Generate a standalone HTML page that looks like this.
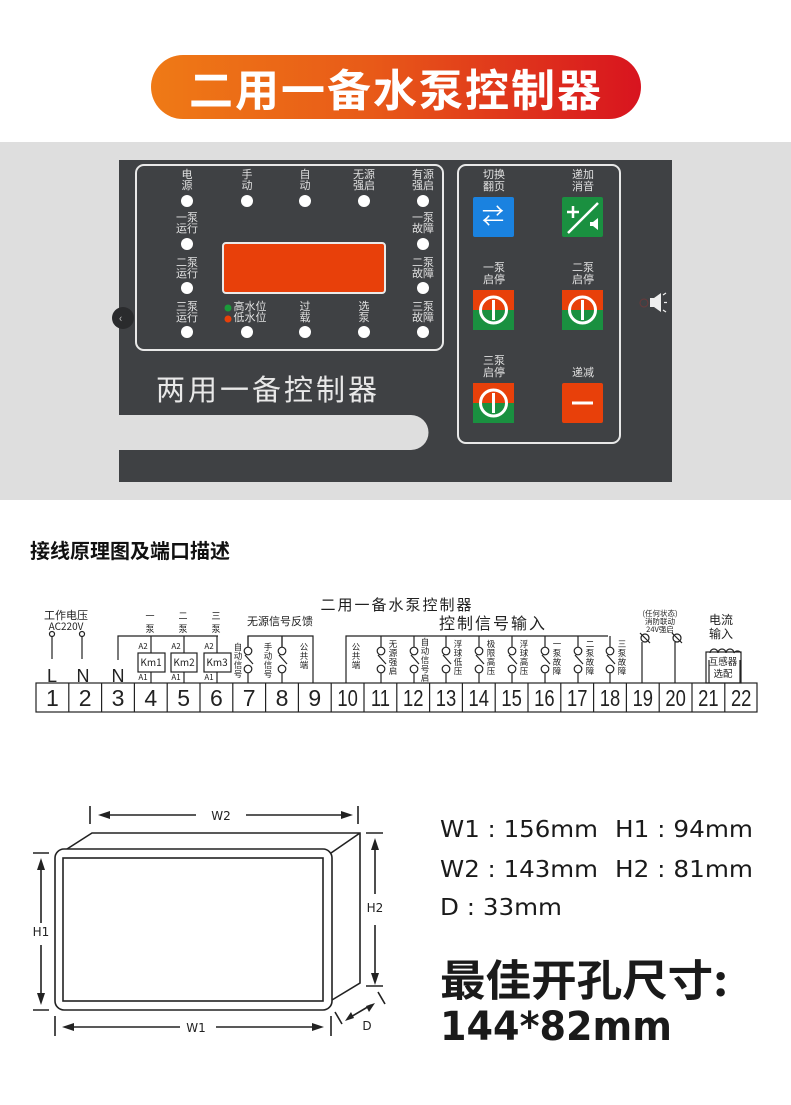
<!DOCTYPE html>
<html><head><meta charset="utf-8">
<style>
body{margin:0;width:791px;height:1105px;background:#fff;position:relative;overflow:hidden;font-family:"Liberation Sans","Noto Sans CJK SC",sans-serif;}
.abs{position:absolute;}
</style></head><body>
<div class="abs" style="left:151px;top:55px;width:490px;height:64px;border-radius:32px;background:linear-gradient(90deg,#ef7a16,#e85a18 45%,#d8141f);"></div>
<div class="abs" style="left:151px;top:55px;width:490px;height:64px;line-height:64px;text-align:center;color:#fff;font-size:44px;font-weight:bold;font-family:'Noto Sans CJK SC',sans-serif;letter-spacing:2px;">二用一备水泵控制器</div>
<div class="abs" style="left:0;top:142px;width:791px;height:358px;background:#dedede;"></div>

<svg class="abs" style="left:0;top:0" width="791" height="1105" font-family="'Noto Sans CJK SC',sans-serif">
<!-- panel -->
<rect x="119" y="160" width="553" height="322" fill="#3f4144"/>
<rect x="136" y="165" width="307" height="185" rx="8" fill="none" stroke="#e8e8e8" stroke-width="2"/>
<rect x="458" y="165" width="162" height="278" rx="8" fill="none" stroke="#e8e8e8" stroke-width="2"/>
<rect x="223" y="243" width="162" height="50" rx="3" fill="#e8400a" stroke="#eaeaea" stroke-width="2"/>
<path d="M119 415 H411 A17 17 0 0 1 411 450 H119 Z" fill="#dedede"/>
<text x="156" y="400" font-size="29" fill="#e8e8e8" letter-spacing="3">两用一备控制器</text>
<circle cx="123" cy="318" r="11" fill="#2a2b2d"/><text x="119" y="322" font-size="11" fill="#ccc">‹</text>
<g fill="#fff">
<circle cx="187" cy="201" r="6"/><circle cx="247" cy="201" r="6"/><circle cx="305" cy="201" r="6"/><circle cx="364" cy="201" r="6"/><circle cx="423" cy="201" r="6"/>
<circle cx="187" cy="244" r="6"/><circle cx="423" cy="244" r="6"/>
<circle cx="187" cy="288" r="6"/><circle cx="423" cy="288" r="6"/>
<circle cx="187" cy="332" r="6"/><circle cx="247" cy="332" r="6"/><circle cx="305" cy="332" r="6"/><circle cx="364" cy="332" r="6"/><circle cx="423" cy="332" r="6"/>
</g>
<g fill="#e0e0e0" font-size="11" text-anchor="middle">
<text x="187" y="178">电</text><text x="187" y="189">源</text>
<text x="247" y="178">手</text><text x="247" y="189">动</text>
<text x="305" y="178">自</text><text x="305" y="189">动</text>
<text x="364" y="178">无源</text><text x="364" y="189">强启</text>
<text x="423" y="178">有源</text><text x="423" y="189">强启</text>
<text x="187" y="221">一泵</text><text x="187" y="232">运行</text>
<text x="423" y="221">一泵</text><text x="423" y="232">故障</text>
<text x="187" y="266">二泵</text><text x="187" y="277">运行</text>
<text x="423" y="266">二泵</text><text x="423" y="277">故障</text>
<text x="187" y="310">三泵</text><text x="187" y="321">运行</text>
<text x="423" y="310">三泵</text><text x="423" y="321">故障</text>
<text x="305" y="310">过</text><text x="305" y="321">载</text>
<text x="364" y="310">选</text><text x="364" y="321">泵</text>
<text x="250" y="310">高水位</text><text x="250" y="321">低水位</text>
<text x="494" y="178">切换</text><text x="494" y="190">翻页</text>
<text x="583" y="178">递加</text><text x="583" y="190">消音</text>
<text x="494" y="271">一泵</text><text x="494" y="283">启停</text>
<text x="583" y="271">二泵</text><text x="583" y="283">启停</text>
<text x="494" y="364">三泵</text><text x="494" y="376">启停</text>
<text x="583" y="376">递减</text>
</g>
<circle cx="228" cy="308" r="3.5" fill="#1a9a3a"/><circle cx="228" cy="319" r="3.5" fill="#e8400a"/>
<rect x="473" y="197" width="41" height="40" rx="2" fill="#1a82e0"/>
<text x="493" y="224" font-size="22" fill="#fff" text-anchor="middle">⇄</text>
<rect x="562" y="197" width="41" height="40" rx="2" fill="#1a9040"/>
<path d="M567 212h12M573 206v12M568 233l30-30" stroke="#fff" stroke-width="2.5"/><path d="M590 222h3l5-4v12l-5-4h-3z" fill="#fff"/>
<g>
<rect x="473" y="290" width="41" height="20" fill="#e8400a"/><rect x="473" y="310" width="41" height="20" fill="#1a9040"/>
<circle cx="493.5" cy="310" r="13" fill="none" stroke="#fff" stroke-width="3"/><path d="M493.5 300v20" stroke="#fff" stroke-width="3"/>
<rect x="562" y="290" width="41" height="20" fill="#e8400a"/><rect x="562" y="310" width="41" height="20" fill="#1a9040"/>
<circle cx="582.5" cy="310" r="13" fill="none" stroke="#fff" stroke-width="3"/><path d="M582.5 300v20" stroke="#fff" stroke-width="3"/>
<rect x="473" y="383" width="41" height="20" fill="#e8400a"/><rect x="473" y="403" width="41" height="20" fill="#1a9040"/>
<circle cx="493.5" cy="403" r="13" fill="none" stroke="#fff" stroke-width="3"/><path d="M493.5 393v20" stroke="#fff" stroke-width="3"/>
<rect x="562" y="383" width="41" height="40" rx="2" fill="#e8400a"/><path d="M572 403h21" stroke="#fff" stroke-width="3"/>
</g>
<path d="M650 298h4l7-5v19l-7-5h-4z" fill="#eee"/><path d="M663 295l3-2M664 302.5h3M663 310l3 2" stroke="#eee" stroke-width="1.3"/>
<circle cx="644" cy="303" r="4" fill="none" stroke="#6a3a3a" stroke-width="1"/>

<!-- heading -->
<text x="30" y="558" font-size="20" font-weight="bold" fill="#111">接线原理图及端口描述</text>

<!-- wiring -->
<g stroke="#222" stroke-width="1.2" fill="none">
<rect x="36" y="683" width="721" height="29"/>
<path d="M68.8 683v29M101.6 683v29M134.4 683v29M167.2 683v29M200 683v29M232.8 683v29M265.6 683v29M298.4 683v29M331.2 683v29M364 683v29M396.8 683v29M429.6 683v29M462.4 683v29M495.2 683v29M528 683v29M560.8 683v29M593.6 683v29M626.4 683v29M659.2 683v29M692 683v29M724.8 683v29"/>
<circle cx="52" cy="634" r="2.5"/><circle cx="82" cy="634" r="2.5"/><path d="M52 637v22M82 637v22"/>
<path d="M118 660V636H218M151 636v17M184 636v17M217 636v17M151 672v11M184 672v11M217 672v11"/>
<rect x="138" y="653" width="27" height="19"/><rect x="171" y="653" width="26" height="19"/><rect x="204" y="653" width="27" height="19"/>
<path d="M313 683V636H248v11M282 636v11"/>
<path d="M346 683V636H608"/>
<path d="M642 642v41M675 642v41"/>
<path d="M709 683V660M740 683V660"/>
<rect x="706" y="652" width="35" height="31"/>
<path d="M710 653a4 4 0 0 1 8 0a4 4 0 0 1 8 0a4 4 0 0 1 8 0a4 4 0 0 1 7 0"/>
<circle cx="645" cy="638" r="4"/><path d="M640 633l10 10"/>
<circle cx="677" cy="638" r="4"/><path d="M672 633l10 10"/>
</g>
<g stroke="#222" stroke-width="1.2" fill="#fff">
<g transform="translate(248,636)"><path d="M0 0v11" fill="none"/><circle cx="0" cy="15" r="3.8"/><circle cx="0" cy="33" r="3.8"/><path d="M-3 19l8 9"/><path d="M0 37v10"/></g>
<g transform="translate(282,636)"><path d="M0 0v11" fill="none"/><circle cx="0" cy="15" r="3.8"/><circle cx="0" cy="33" r="3.8"/><path d="M-3 19l8 9"/><path d="M0 37v10"/></g>
<g transform="translate(381,636)"><path d="M0 0v11"/><circle cx="0" cy="15" r="3.8"/><circle cx="0" cy="33" r="3.8"/><path d="M-3 19l8 9"/><path d="M0 37v10"/></g>
<g transform="translate(414,636)"><path d="M0 0v11"/><circle cx="0" cy="15" r="3.8"/><circle cx="0" cy="33" r="3.8"/><path d="M-3 19l8 9"/><path d="M0 37v10"/></g>
<g transform="translate(446,636)"><path d="M0 0v11"/><circle cx="0" cy="15" r="3.8"/><circle cx="0" cy="33" r="3.8"/><path d="M-3 19l8 9"/><path d="M0 37v10"/></g>
<g transform="translate(479,636)"><path d="M0 0v11"/><circle cx="0" cy="15" r="3.8"/><circle cx="0" cy="33" r="3.8"/><path d="M-3 19l8 9"/><path d="M0 37v10"/></g>
<g transform="translate(512,636)"><path d="M0 0v11"/><circle cx="0" cy="15" r="3.8"/><circle cx="0" cy="33" r="3.8"/><path d="M-3 19l8 9"/><path d="M0 37v10"/></g>
<g transform="translate(545,636)"><path d="M0 0v11"/><circle cx="0" cy="15" r="3.8"/><circle cx="0" cy="33" r="3.8"/><path d="M-3 19l8 9"/><path d="M0 37v10"/></g>
<g transform="translate(578,636)"><path d="M0 0v11"/><circle cx="0" cy="15" r="3.8"/><circle cx="0" cy="33" r="3.8"/><path d="M-3 19l8 9"/><path d="M0 37v10"/></g>
<g transform="translate(610,636)"><path d="M0 0v11"/><circle cx="0" cy="15" r="3.8"/><circle cx="0" cy="33" r="3.8"/><path d="M-3 19l8 9"/><path d="M0 37v10"/></g>
</g>
<g fill="#222" font-size="9" text-anchor="middle">
<text x="150" y="619">一</text><text x="150" y="632">泵</text>
<text x="183" y="619">二</text><text x="183" y="632">泵</text>
<text x="216" y="619">三</text><text x="216" y="632">泵</text>
<text x="143" y="649" font-size="8">A2</text><text x="176" y="649" font-size="8">A2</text><text x="209" y="649" font-size="8">A2</text>
<text x="143" y="680" font-size="8">A1</text><text x="176" y="680" font-size="8">A1</text><text x="209" y="680" font-size="8">A1</text>
<text x="151" y="666" font-size="10">Km1</text><text x="184" y="666" font-size="10">Km2</text><text x="217" y="666" font-size="10">Km3</text>
</g>
<g fill="#222" font-size="8.5" text-anchor="middle">
<text x="238" y="650">自</text><text x="238" y="659">动</text><text x="238" y="668">信</text><text x="238" y="677">号</text>
<text x="268" y="650">手</text><text x="268" y="659">动</text><text x="268" y="668">信</text><text x="268" y="677">号</text>
<text x="304" y="650">公</text><text x="304" y="659">共</text><text x="304" y="668">端</text>
<text x="356" y="650">公</text><text x="356" y="659">共</text><text x="356" y="668">端</text>
<text x="393" y="647">无</text><text x="393" y="656">源</text><text x="393" y="665">强</text><text x="393" y="674">启</text>
<text x="425" y="645">自</text><text x="425" y="654">动</text><text x="425" y="663">信</text><text x="425" y="672">号</text><text x="425" y="681">启</text>
<text x="458" y="647">浮</text><text x="458" y="656">球</text><text x="458" y="665">低</text><text x="458" y="674">压</text>
<text x="491" y="647">极</text><text x="491" y="656">限</text><text x="491" y="665">高</text><text x="491" y="674">压</text>
<text x="524" y="647">浮</text><text x="524" y="656">球</text><text x="524" y="665">高</text><text x="524" y="674">压</text>
<text x="557" y="647">一</text><text x="557" y="656">泵</text><text x="557" y="665">故</text><text x="557" y="674">障</text>
<text x="590" y="647">二</text><text x="590" y="656">泵</text><text x="590" y="665">故</text><text x="590" y="674">障</text>
<text x="622" y="647">三</text><text x="622" y="656">泵</text><text x="622" y="665">故</text><text x="622" y="674">障</text>
<text x="660" y="616" font-size="7.5">(任何状态)</text><text x="660" y="624" font-size="7.5">消防联动</text><text x="660" y="632" font-size="7.5">24V强启</text>
<text x="723" y="665" font-size="9.5">互感器</text><text x="723" y="677" font-size="9.5">选配</text>
</g>
<g fill="#222" text-anchor="middle">
<text x="66" y="619" font-size="11">工作电压</text><text x="66" y="630" font-size="10">AC220V</text>
<text x="721" y="624" font-size="12">电流</text><text x="721" y="638" font-size="12">输入</text>
<text x="280" y="625" font-size="11">无源信号反馈</text>
<text x="397" y="610" font-size="15" letter-spacing="2">二用一备水泵控制器</text>
<text x="493" y="629" font-size="16" letter-spacing="2">控制信号输入</text>
<text x="52" y="682" font-size="18" font-family="Liberation Sans">L</text><text x="83" y="682" font-size="18" font-family="Liberation Sans">N</text><text x="118" y="682" font-size="18" font-family="Liberation Sans">N</text>
</g>
<g fill="#222" font-size="23" text-anchor="middle" font-family="Liberation Sans">
<text x="52.4" y="706">1</text><text x="85.2" y="706">2</text><text x="118" y="706">3</text><text x="150.8" y="706">4</text><text x="183.6" y="706">5</text><text x="216.4" y="706">6</text><text x="249.2" y="706">7</text><text x="282" y="706">8</text><text x="314.8" y="706">9</text>
<g transform="scale(0.8,1)">
<text x="434.5" y="706">10</text><text x="475.5" y="706">11</text><text x="516.5" y="706">12</text><text x="557.5" y="706">13</text><text x="598.5" y="706">14</text><text x="639.5" y="706">15</text><text x="680.5" y="706">16</text><text x="721.5" y="706">17</text><text x="762.5" y="706">18</text><text x="803.5" y="706">19</text><text x="844.5" y="706">20</text><text x="885.5" y="706">21</text><text x="926.5" y="706">22</text>
</g></g>

<!-- dimension drawing -->
<g stroke="#222" stroke-width="1.6" fill="none">
<path d="M67 849L92 833H360V983L332 1000M331 853L360 833"/>
<rect x="55" y="849" width="277" height="161" rx="9"/>
<rect x="63" y="858" width="260" height="143"/>
<path d="M90 806v18M358 806v18M33 853h16M33 1010h16M366 833h17M366 986h17M55 1016v20M331 1016v20M335 1012l7 12M378 992l7 12"/>
<path d="M104 815h92M246 815h102M41 866v57M41 945v52M375 846v48M375 925v52M70 1027h110M216 1027h100M349 1018l22-13"/>
</g>
<g fill="#222">
<path d="M98 815l12-4v8zM353 815l-12-4v8zM41 858l-4 12h8zM41 1005l-4-12h8zM375 838l-4 12h8zM375 985l-4-12h8zM62 1027l12-4v8zM324 1027l-12-4v8zM345 1021l6-9 3 6zM375 1003l-6 9-3-6z"/>
</g>
<g fill="#222" font-size="12" font-family="'DejaVu Sans',sans-serif" text-anchor="middle">
<text x="221" y="820">W2</text><text x="41" y="936">H1</text><text x="375" y="912">H2</text><text x="196" y="1032">W1</text><text x="367" y="1030">D</text>
</g>
<g fill="#1a1a1a" font-family="'DejaVu Sans',sans-serif" font-size="23">
<text x="440" y="837" textLength="158" lengthAdjust="spacingAndGlyphs">W1 : 156mm</text><text x="615" y="837" textLength="138" lengthAdjust="spacingAndGlyphs">H1 : 94mm</text>
<text x="440" y="877" textLength="158" lengthAdjust="spacingAndGlyphs">W2 : 143mm</text><text x="615" y="877" textLength="138" lengthAdjust="spacingAndGlyphs">H2 : 81mm</text>
<text x="440" y="915" textLength="122" lengthAdjust="spacingAndGlyphs">D : 33mm</text>
</g>
<text x="440" y="996" font-size="43" font-weight="bold" fill="#1a1a1a" font-family="'Noto Sans CJK SC',sans-serif" textLength="288" lengthAdjust="spacingAndGlyphs">最佳开孔尺寸:</text>
<text x="440" y="1040" font-size="40" font-weight="bold" fill="#1a1a1a" font-family="'DejaVu Sans','Liberation Sans',sans-serif" textLength="232" lengthAdjust="spacingAndGlyphs">144*82mm</text>
</svg>
</body></html>
